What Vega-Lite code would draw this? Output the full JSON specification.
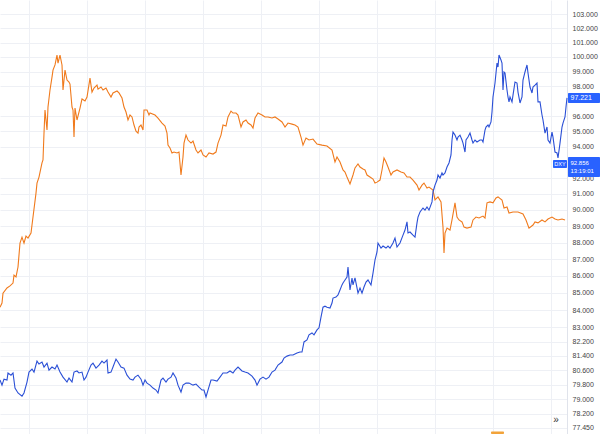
{
  "$schema": "https://vega.github.io/schema/vega-lite/v6.json",
  "width": 567,
  "height": 434,
  "autosize": {"type": "none"},
  "padding": {"left": 0, "top": 0, "right": 33, "bottom": 0},
  "background": "#ffffff",
  "config": {"view": {"stroke": null}},
  "datasets": {
    "orange": [
      {"t":0,"v":84.17},{"t":2,"v":84.41},{"t":3,"v":84.99},{"t":7,"v":85.29},{"t":10,"v":85.41},{"t":13,"v":85.58},{"t":14,"v":86.05},{"t":16,"v":85.94},{"t":18,"v":86.53},{"t":20,"v":87.97},{"t":22,"v":88.33},{"t":24,"v":87.97},{"t":26,"v":88.39},{"t":28,"v":88.27},{"t":31,"v":88.58},{"t":33,"v":89.56},{"t":36,"v":91.05},{"t":37,"v":91.68},{"t":39,"v":92.06},{"t":42,"v":92.96},{"t":43,"v":93.15},{"t":44,"v":94.89},{"t":45,"v":96.41},{"t":47,"v":95.09},{"t":48,"v":96.61},{"t":50,"v":97.75},{"t":52,"v":98.62},{"t":53,"v":99.10},{"t":55,"v":99.45},{"t":57,"v":100.13},{"t":58,"v":99.58},{"t":60,"v":100.13},{"t":62,"v":99.45},{"t":63,"v":97.75},{"t":65,"v":99.10},{"t":67,"v":98.42},{"t":69,"v":98.29},{"t":70,"v":98.15},{"t":72,"v":96.61},{"t":73,"v":96.41},{"t":74,"v":94.63},{"t":75,"v":96.54},{"t":77,"v":95.75},{"t":80,"v":96.54},{"t":82,"v":97.15},{"t":85,"v":97.01},{"t":87,"v":97.28},{"t":90,"v":98.55},{"t":92,"v":97.61},{"t":94,"v":97.88},{"t":97,"v":98.08},{"t":98,"v":97.81},{"t":101,"v":97.95},{"t":103,"v":97.75},{"t":106,"v":97.88},{"t":108,"v":97.61},{"t":111,"v":97.28},{"t":113,"v":97.55},{"t":117,"v":97.68},{"t":119,"v":97.55},{"t":122,"v":97.21},{"t":124,"v":96.61},{"t":126,"v":96.28},{"t":128,"v":95.75},{"t":130,"v":96.08},{"t":132,"v":95.95},{"t":134,"v":95.42},{"t":136,"v":95.02},{"t":138,"v":94.89},{"t":139,"v":95.29},{"t":141,"v":95.42},{"t":143,"v":95.09},{"t":144,"v":96.41},{"t":147,"v":96.41},{"t":149,"v":96.08},
      {"t":150,"v":96.21},{"t":155,"v":96.08},{"t":158,"v":95.88},{"t":162,"v":95.55},{"t":165,"v":95.35},{"t":167,"v":94.89},{"t":168,"v":94.11},{"t":170,"v":93.92},{"t":172,"v":93.60},{"t":174,"v":93.66},{"t":177,"v":93.60},{"t":179,"v":93.66},{"t":181,"v":92.19},{"t":183,"v":93.34},{"t":184,"v":94.24},{"t":186,"v":94.76},{"t":188,"v":94.44},{"t":191,"v":94.24},{"t":193,"v":94.37},{"t":196,"v":93.79},{"t":198,"v":93.60},{"t":201,"v":93.79},{"t":203,"v":93.47},{"t":206,"v":93.34},{"t":209,"v":93.60},{"t":213,"v":93.53},{"t":216,"v":93.66},{"t":218,"v":94.24},{"t":221,"v":94.76},{"t":223,"v":95.42},{"t":226,"v":95.35},{"t":228,"v":95.95},{"t":231,"v":96.34},{"t":233,"v":96.21},{"t":236,"v":96.21},{"t":238,"v":96.08},{"t":241,"v":95.29},{"t":243,"v":95.62},{"t":246,"v":95.75},{"t":248,"v":95.55},{"t":251,"v":95.42},{"t":253,"v":95.22},{"t":255,"v":95.88},{"t":258,"v":96.21},{"t":262,"v":96.08},{"t":265,"v":95.95},{"t":268,"v":95.95},{"t":272,"v":95.88},{"t":275,"v":95.95},{"t":278,"v":95.82},{"t":282,"v":95.62},{"t":285,"v":95.29},{"t":288,"v":95.55},{"t":292,"v":95.48},{"t":295,"v":95.42},{"t":298,"v":95.29},{"t":301,"v":94.63},{"t":303,"v":94.11},{"t":306,"v":94.57},{"t":309,"v":94.44},
      {"t":313,"v":94.50},{"t":317,"v":94.18},{"t":322,"v":94.11},{"t":327,"v":94.05},{"t":332,"v":93.79},{"t":335,"v":93.02},{"t":337,"v":93.34},{"t":340,"v":93.02},{"t":343,"v":92.51},{"t":345,"v":92.38},{"t":347,"v":92.06},{"t":350,"v":91.62},{"t":353,"v":92.19},{"t":355,"v":92.64},{"t":358,"v":92.89},{"t":360,"v":92.70},{"t":363,"v":92.57},{"t":365,"v":92.51},{"t":367,"v":92.19},{"t":370,"v":92.06},{"t":373,"v":91.93},{"t":375,"v":91.68},{"t":377,"v":91.74},{"t":380,"v":91.87},{"t":382,"v":92.51},{"t":384,"v":93.28},{"t":386,"v":93.02},{"t":388,"v":92.70},{"t":391,"v":92.19},{"t":393,"v":92.38},{"t":397,"v":92.51},{"t":401,"v":92.38},{"t":404,"v":92.32},{"t":407,"v":92.06},{"t":410,"v":92.06},{"t":413,"v":91.87},{"t":417,"v":91.55},{"t":419,"v":91.24},{"t":422,"v":91.55},{"t":424,"v":91.68},{"t":427,"v":91.37},{"t":429,"v":91.43},{"t":433,"v":91.24},{"t":435,"v":90.62},{"t":438,"v":90.81},{"t":441,"v":90.50},{"t":443,"v":88.94},{"t":444,"v":87.37},{"t":445,"v":88.58},{"t":447,"v":88.88},{"t":450,"v":88.76},
      {"t":452,"v":89.38},{"t":455,"v":90.44},{"t":457,"v":89.56},{"t":459,"v":89.38},{"t":462,"v":89.26},{"t":464,"v":88.94},{"t":467,"v":88.88},{"t":471,"v":88.94},{"t":473,"v":89.38},{"t":476,"v":89.56},{"t":479,"v":89.50},{"t":483,"v":89.62},{"t":485,"v":89.50},{"t":487,"v":90.44},{"t":490,"v":90.50},{"t":493,"v":90.44},{"t":496,"v":90.75},{"t":498,"v":90.81},{"t":502,"v":90.62},{"t":504,"v":90.12},{"t":507,"v":90.18},{"t":509,"v":89.81},{"t":513,"v":89.87},{"t":518,"v":89.87},{"t":523,"v":89.75},{"t":526,"v":89.38},{"t":529,"v":88.88},{"t":533,"v":89.07},{"t":535,"v":89.26},{"t":538,"v":89.20},{"t":542,"v":89.38},{"t":545,"v":89.26},{"t":548,"v":89.44},{"t":552,"v":89.56},{"t":555,"v":89.44},{"t":558,"v":89.38},{"t":562,"v":89.44},{"t":565,"v":89.38}
    ],
    "blue": [
      {"t":0,"v":80.05},{"t":2,"v":79.77},{"t":4,"v":80.10},{"t":7,"v":80.05},{"t":8,"v":80.44},{"t":11,"v":80.32},{"t":13,"v":80.44},{"t":15,"v":79.61},{"t":18,"v":79.34},{"t":22,"v":79.17},{"t":24,"v":79.34},{"t":27,"v":79.94},{"t":29,"v":80.49},{"t":32,"v":80.66},{"t":34,"v":80.49},{"t":37,"v":81.10},{"t":39,"v":80.94},{"t":42,"v":81.05},{"t":44,"v":80.77},{"t":47,"v":80.99},{"t":49,"v":80.60},{"t":52,"v":80.77},{"t":55,"v":80.66},{"t":57,"v":80.88},{"t":60,"v":80.49},{"t":63,"v":80.21},{"t":67,"v":79.94},{"t":69,"v":80.16},{"t":72,"v":79.94},{"t":74,"v":80.49},{"t":77,"v":80.55},{"t":79,"v":80.44},{"t":82,"v":80.49},{"t":84,"v":80.05},{"t":86,"v":80.21},{"t":88,"v":80.49},{"t":91,"v":80.88},{"t":93,"v":80.99},{"t":96,"v":80.71},{"t":99,"v":80.88},{"t":102,"v":81.10},{"t":104,"v":80.99},{"t":107,"v":81.16},{"t":108,"v":80.44},{"t":111,"v":80.49},{"t":113,"v":80.77},{"t":116,"v":81.21},{"t":118,"v":81.05},{"t":121,"v":80.77},{"t":124,"v":80.71},{"t":127,"v":80.32},{"t":130,"v":80.10},{"t":133,"v":80.05},{"t":135,"v":80.21},{"t":138,"v":80.32},{"t":141,"v":80.10},{"t":143,"v":79.77},{"t":145,"v":80.05},{"t":147,"v":79.88},{"t":150,"v":79.77},{"t":153,"v":79.61},{"t":156,"v":79.50},{"t":158,"v":79.34},{"t":161,"v":80.05},{"t":163,"v":80.16},{"t":166,"v":79.94},{"t":168,"v":80.10},{"t":171,"v":80.21},{"t":173,"v":80.44},{"t":176,"v":80.16},{"t":178,"v":79.77},{"t":181,"v":79.39},{"t":183,"v":79.77},{"t":186,"v":79.88},{"t":189,"v":79.88},{"t":193,"v":79.77},{"t":196,"v":79.83},{"t":199,"v":79.66},{"t":202,"v":79.50},{"t":204,"v":79.50},{"t":206,"v":79.12},{"t":208,"v":79.50},{"t":211,"v":80.05},{"t":213,"v":80.05},{"t":217,"v":79.99},{"t":220,"v":80.21},{"t":223,"v":80.44},{"t":227,"v":80.44},{"t":230,"v":80.55},{"t":233,"v":80.44},{"t":235,"v":80.60},{"t":238,"v":80.77},{"t":242,"v":80.55},{"t":245,"v":80.49},{"t":248,"v":80.44},{"t":252,"v":80.27},{"t":255,"v":80.05},{"t":257,"v":79.77},{"t":260,"v":80.10},{"t":263,"v":80.21},{"t":266,"v":80.10},{"t":269,"v":80.21},{"t":272,"v":80.49},{"t":275,"v":80.60},{"t":278,"v":80.88},{"t":282,"v":81.05},{"t":284,"v":81.27},{"t":287,"v":81.38},{"t":290,"v":81.44},{"t":293,"v":81.44},{"t":297,"v":81.55},{"t":300,"v":81.61},
      {"t":302,"v":81.61},{"t":304,"v":82.18},{"t":307,"v":82.29},{"t":309,"v":82.58},{"t":312,"v":82.69},{"t":314,"v":82.58},{"t":317,"v":82.86},{"t":319,"v":82.98},{"t":321,"v":83.60},{"t":323,"v":84.17},{"t":325,"v":84.23},{"t":327,"v":84.17},{"t":330,"v":84.12},{"t":332,"v":84.41},{"t":333,"v":84.70},{"t":336,"v":84.76},{"t":338,"v":84.88},{"t":340,"v":85.17},{"t":342,"v":85.47},{"t":343,"v":85.58},{"t":345,"v":85.76},{"t":347,"v":85.94},{"t":348,"v":86.53},{"t":350,"v":85.17},{"t":352,"v":85.88},{"t":353,"v":85.47},{"t":355,"v":85.88},{"t":357,"v":85.29},{"t":358,"v":84.99},{"t":360,"v":85.29},{"t":362,"v":84.99},{"t":364,"v":85.35},{"t":366,"v":85.64},{"t":368,"v":85.76},{"t":371,"v":85.47},{"t":373,"v":86.17},{"t":375,"v":86.95},{"t":377,"v":87.43},{"t":378,"v":87.97},{"t":381,"v":87.67},{"t":383,"v":87.79},{"t":386,"v":87.67},{"t":388,"v":87.79},{"t":390,"v":87.67},{"t":393,"v":87.97},{"t":395,"v":88.27},{"t":397,"v":87.73},{"t":400,"v":87.97},{"t":403,"v":88.45},{"t":405,"v":88.76},{"t":407,"v":89.26},{"t":408,"v":88.58},{"t":410,"v":88.64},{"t":413,"v":88.45},{"t":415,"v":88.33},{"t":417,"v":89.20},{"t":418,"v":89.56},{"t":420,"v":89.87},{"t":423,"v":90.12},{"t":425,"v":89.99},{"t":427,"v":90.18},{"t":429,"v":89.99},{"t":432,"v":90.50},{"t":433,"v":91.12},{"t":435,"v":91.55},{"t":437,"v":91.87},{"t":438,"v":92.19},{"t":440,"v":92.00},{"t":442,"v":92.32},{"t":443,"v":92.19},{"t":445,"v":92.32},{"t":447,"v":92.70},{"t":449,"v":92.96},{"t":451,"v":93.47},{"t":452,"v":94.44},{"t":453,"v":94.96},{"t":455,"v":94.76},{"t":457,"v":94.44},{"t":458,"v":94.63},{"t":460,"v":94.76},{"t":462,"v":94.44},{"t":463,"v":94.24},{"t":465,"v":93.66},{"t":466,"v":94.44},{"t":468,"v":94.63},{"t":470,"v":94.89},{"t":472,"v":94.44},{"t":473,"v":94.24},{"t":475,"v":94.44},{"t":477,"v":94.31},{"t":480,"v":94.44},{"t":482,"v":94.44},{"t":483,"v":94.31},{"t":485,"v":95.09},{"t":486,"v":95.29},{"t":488,"v":95.42},{"t":489,"v":95.29},{"t":491,"v":95.62},{"t":492,"v":96.28},{"t":493,"v":97.28},{"t":495,"v":98.22},{"t":496,"v":98.90},{"t":497,"v":99.58},{"t":498,"v":99.31},{"t":499,"v":100.13},{"t":501,"v":99.79},{"t":502,"v":99.58},{"t":503,"v":97.75},{"t":504,"v":98.97},{"t":505,"v":98.90},{"t":507,"v":97.75},{"t":508,"v":97.28},{"t":509,"v":96.95},{"t":510,"v":97.28},{"t":512,"v":96.95},{"t":513,"v":97.41},{"t":515,"v":98.29},{"t":517,"v":98.22},{"t":518,"v":97.61},{"t":520,"v":96.88},{"t":522,"v":97.28},{"t":523,"v":98.42},{"t":525,"v":98.97},{"t":527,"v":99.45},{"t":528,"v":98.90},{"t":530,"v":97.95},{"t":532,"v":97.55},{"t":533,"v":97.95},{"t":535,"v":98.08},{"t":537,"v":98.22},{"t":538,"v":96.95},{"t":540,"v":96.95},{"t":542,"v":96.08},{"t":543,"v":95.75},{"t":545,"v":94.89},{"t":547,"v":95.29},{"t":548,"v":94.44},{"t":550,"v":94.24},{"t":552,"v":94.96},{"t":553,"v":94.63},{"t":555,"v":93.66},{"t":557,"v":93.60},{"t":558,"v":93.28},{"t":560,"v":94.24},{"t":562,"v":95.29},{"t":563,"v":95.55},{"t":565,"v":95.95},{"t":566,"v":96.61},{"t":567,"v":97.22}
    ],
    "boxes": [
      {"t":568,"t2":600,"v":97.55,"v2":96.88,"c":"#2962FF"},
      {"t":568,"t2":600,"v":93.34,"v2":92.07,"c":"#2962FF"},
      {"t":553,"t2":567,"v":93.15,"v2":92.64,"c":"#2962FF"},
      {"t":491,"t2":504,"v":77.26,"v2":77.13,"c":"#F2A33A"}
    ],
    "leftlabels": [
      {"t":570.5,"v":97.221,"txt":"97.221","fs":7},
      {"t":570.5,"v":92.96,"txt":"92.856","fs":6},
      {"t":570.5,"v":92.44,"txt":"13:19:01","fs":6}
    ],
    "centerlabels": [
      {"t":560,"v":92.89,"txt":"DXY","c":"#ffffff","fs":5.5},
      {"t":556,"v":77.87,"txt":"»","c":"#333333","fs":10}
    ]
  },
  "layer": [
    {
      "data": {"name": "orange"},
      "mark": {"type": "line", "color": "#F07A1C", "strokeWidth": 1.1, "interpolate": "linear"},
      "encoding": {
        "x": {
          "field": "t", "type": "quantitative", "title": null,
          "scale": {"domain": [0, 567], "nice": false, "zero": false},
          "axis": {"values": [29, 87, 145, 203, 261, 319, 377, 435, 493, 551], "labels": false, "ticks": false, "domain": false, "title": null, "grid": true, "gridColor": "#EEF0F5", "gridWidth": 1}
        },
        "y": {
          "field": "v", "type": "quantitative", "title": null,
          "scale": {"type": "log", "domain": [77.13, 104.0], "nice": false, "zero": false},
          "axis": {
            "orient": "right", "title": null,
            "values": [103, 102, 101, 100, 99, 98, 96, 95, 94, 92, 91, 90, 89, 88, 87, 86, 85, 84, 83, 82.2, 81.4, 80.6, 79.8, 79, 78.2, 77.45],
            "format": ".3f", "ticks": false, "domain": true, "domainColor": "#E0E3EB",
            "labelFont": "Liberation Sans", "labelFontSize": 7, "labelColor": "#444444",
            "labelPadding": 5, "labelAlign": "left", "labelBaseline": "middle",
            "labelFlush": false, "labelOverlap": false,
            "grid": true, "gridColor": "#EEF0F5", "gridWidth": 1
          }
        }
      }
    },
    {
      "data": {"name": "blue"},
      "mark": {"type": "line", "color": "#2A4FD6", "strokeWidth": 1.1, "interpolate": "linear"},
      "encoding": {
        "x": {"field": "t", "type": "quantitative", "title": null},
        "y": {"field": "v", "type": "quantitative", "title": null}
      }
    },
    {
      "mark": {"type": "rule", "color": "#9AA3BF", "strokeDash": [1.5, 2], "strokeWidth": 1},
      "encoding": {"y": {"datum": 92.856, "type": "quantitative", "title": null}}
    },
    {
      "data": {"name": "boxes"},
      "mark": {"type": "rect", "cornerRadius": 1},
      "encoding": {
        "x": {"field": "t", "type": "quantitative", "title": null},
        "x2": {"field": "t2"},
        "y": {"field": "v", "type": "quantitative", "title": null},
        "y2": {"field": "v2"},
        "color": {"field": "c", "type": "nominal", "scale": null, "legend": null}
      }
    },
    {
      "data": {"name": "leftlabels"},
      "mark": {"type": "text", "font": "Liberation Sans", "baseline": "middle", "align": "left", "color": "#ffffff"},
      "encoding": {
        "x": {"field": "t", "type": "quantitative", "title": null},
        "y": {"field": "v", "type": "quantitative", "title": null},
        "text": {"field": "txt"},
        "size": {"field": "fs", "type": "quantitative", "scale": null, "legend": null}
      }
    },
    {
      "data": {"name": "centerlabels"},
      "mark": {"type": "text", "font": "Liberation Sans", "baseline": "middle", "align": "center"},
      "encoding": {
        "x": {"field": "t", "type": "quantitative", "title": null},
        "y": {"field": "v", "type": "quantitative", "title": null},
        "text": {"field": "txt"},
        "color": {"field": "c", "type": "nominal", "scale": null, "legend": null},
        "size": {"field": "fs", "type": "quantitative", "scale": null, "legend": null}
      }
    }
  ]
}
